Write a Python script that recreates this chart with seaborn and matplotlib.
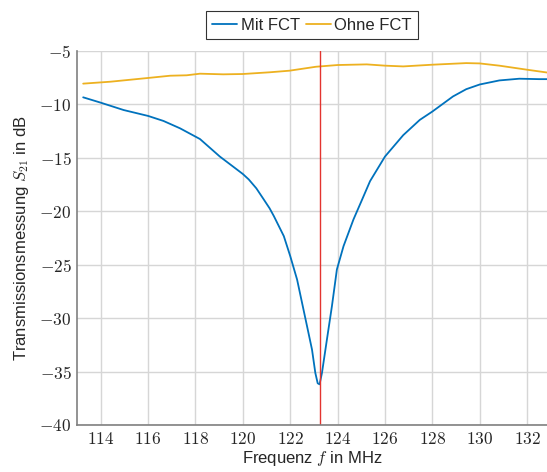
import numpy as np
import pandas as pd
import matplotlib
matplotlib.use("Agg")
import matplotlib.pyplot as plt
from matplotlib.ticker import FuncFormatter, MultipleLocator
import seaborn as sns

# Daten
f_mit = [113.26, 114.0, 114.97, 116.0, 116.65, 117.35, 118.19, 119.03, 119.59, 120.0,
         120.25, 120.57, 120.88, 121.13, 121.31, 121.73, 122.0, 122.29, 122.5, 122.71,
         122.92, 123.06, 123.16, 123.24, 123.34, 123.55, 123.76, 123.97, 124.25, 124.67,
         125.0, 125.37, 126.0, 126.77, 127.47, 128.0, 128.87, 129.43, 130.0,
         130.83, 131.67, 132.5, 132.84]
s21_mit = [-9.36, -9.86, -10.55, -11.1, -11.57, -12.26, -13.26, -14.9, -15.84, -16.53,
           -17.04, -17.87, -18.9, -19.74, -20.47, -22.34, -24.2, -26.4, -28.58, -30.76,
           -32.95, -35.13, -36.1, -36.2, -35.13, -32.0, -28.9, -25.46, -23.28, -20.78,
           -19.1, -17.2, -14.9, -12.9, -11.47, -10.69, -9.28, -8.6, -8.16,
           -7.78, -7.62, -7.66, -7.66]

f_ohne = [113.26, 114.41, 116.0, 116.93, 117.63, 118.19, 119.17, 120.0, 121.13, 121.97,
          123.09, 124.0, 125.23, 126.0, 126.77, 128.0, 129.43, 130.0, 130.83, 132.0,
          132.84]
s21_ohne = [-8.08, -7.9, -7.55, -7.34, -7.3, -7.15, -7.21, -7.18, -7.02, -6.87,
            -6.5, -6.34, -6.28, -6.4, -6.47, -6.31, -6.16, -6.19, -6.4, -6.78,
            -7.04]

f_resonanz = 123.24

df = pd.concat([
    pd.DataFrame({"f": f_mit, "S21": s21_mit, "Messung": "Mit FCT"}),
    pd.DataFrame({"f": f_ohne, "S21": s21_ohne, "Messung": "Ohne FCT"}),
])

sns.set_style("whitegrid")
plt.rcParams["font.family"] = ["Liberation Sans", "DejaVu Sans"]
plt.rcParams["mathtext.fontset"] = "cm"

fig = plt.figure(figsize=(5.47, 4.72), dpi=100)
ax = fig.add_axes([0.1408, 0.0996, 0.8592, 0.793])

sns.lineplot(data=df, x="f", y="S21", hue="Messung",
             palette={"Mit FCT": "#0072BD", "Ohne FCT": "#EDB120"},
             linewidth=1.3, ax=ax, sort=False)
ax.axvline(f_resonanz, color="#e3342f", linewidth=1.0)

ax.set_xlim(113, 132.84)
ax.set_ylim(-40, -5)
ax.xaxis.set_major_locator(MultipleLocator(2))
ax.yaxis.set_major_locator(MultipleLocator(5))
ax.xaxis.set_major_formatter(FuncFormatter(lambda v, p: r"$\mathrm{%g}$" % v))
ax.yaxis.set_major_formatter(FuncFormatter(lambda v, p: r"$\mathrm{%g}$" % v))
ax.tick_params(axis="both", labelsize=12.5, direction="in", length=3,
               color="#808080", pad=4)
ax.grid(True, color="#d6d6d6", linewidth=1.0)

for s in ["top", "right"]:
    ax.spines[s].set_visible(False)
for s in ["left", "bottom"]:
    ax.spines[s].set_color("#808080")
    ax.spines[s].set_linewidth(1.2)

ax.set_xlabel("Frequenz $f$ in MHz", fontsize=12, labelpad=2)
ax.set_ylabel("Transmissionsmessung $S_{21}$ in dB", fontsize=12, labelpad=6)

leg = ax.legend(loc="lower center", bbox_to_anchor=(0.5, 1.03), ncol=2,
                frameon=True, fancybox=False, edgecolor="black", fontsize=12,
                handlelength=1.5, handletextpad=0.2, columnspacing=0.35,
                borderpad=0.4, borderaxespad=0.0)
leg.get_frame().set_linewidth(0.8)

fig.savefig("out.png", dpi=100)
